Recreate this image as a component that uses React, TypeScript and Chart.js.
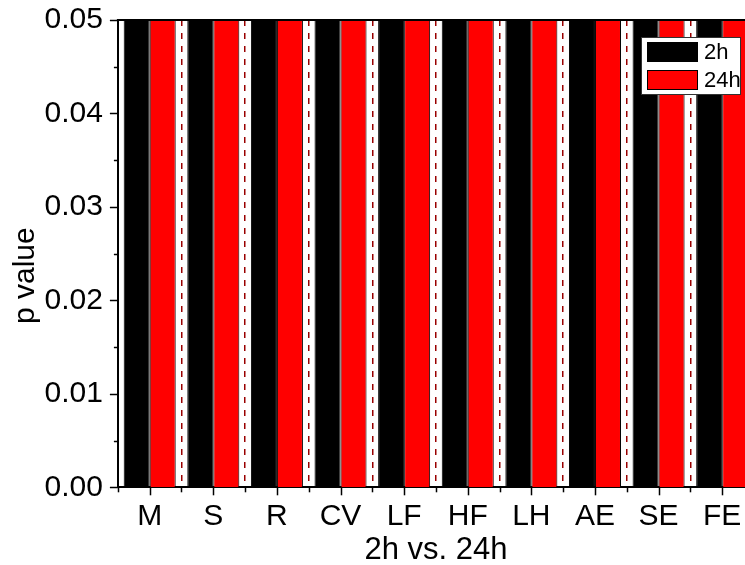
import React, { useEffect, useRef } from 'react';
import { Chart, registerables } from 'chart.js';

Chart.register(...registerables);

const categories = ['M', 'S', 'R', 'CV', 'LF', 'HF', 'LH', 'AE', 'SE', 'FE'];
const values2h = [0.05, 0.05, 0.05, 0.05, 0.05, 0.05, 0.05, 0.05, 0.05, 0.05];
const values24h = [0.05, 0.05, 0.05, 0.05, 0.05, 0.05, 0.05, 0.05, 0.05, 0.05];
const yTicks = [0, 0.01, 0.02, 0.03, 0.04, 0.05];
const seriesLabels = ['2h', '24h'];
const seriesColors = ['#000000', '#ff0000'];
const xTitle = '2h vs. 24h';
const yTitle = 'p value';

const FONT = 'Arial, "Liberation Sans", sans-serif';

const decorPlugin = {
  id: 'decor',
  afterDraw(chart: any) {
    const { ctx, chartArea } = chart;
    const xs = chart.scales.x;
    const ys = chart.scales.y;
    const line = (x1: number, y1: number, x2: number, y2: number) => {
      ctx.beginPath();
      ctx.moveTo(x1, y1);
      ctx.lineTo(x2, y2);
      ctx.stroke();
    };
    ctx.save();
    ctx.strokeStyle = '#000';
    ctx.lineWidth = 2;
    // top frame line
    line(chartArea.left - 1, chartArea.top, chartArea.right + 1, chartArea.top);
    ctx.lineWidth = 1.5;
    // x ticks
    categories.forEach((_, i) => {
      const px = Math.round(xs.getPixelForValue(i)) + 0.5;
      line(px, chartArea.bottom, px, chartArea.bottom + 8);
    });
    for (let i = 0; i <= categories.length; i++) {
      const px = Math.round(xs.getPixelForValue(i - 0.5)) + 0.5;
      line(px, chartArea.bottom, px, chartArea.bottom + 5);
    }
    // y ticks
    yTicks.forEach((v) => {
      const py = Math.round(ys.getPixelForValue(v)) + 0.5;
      line(chartArea.left - 8, py, chartArea.left, py);
    });
    for (let k = 0; k < yTicks.length - 1; k++) {
      const py = Math.round(ys.getPixelForValue((yTicks[k] + yTicks[k + 1]) / 2)) + 0.5;
      line(chartArea.left - 4, py, chartArea.left, py);
    }
    // y title
    ctx.save();
    ctx.translate(chartArea.left - 84, (chartArea.top + chartArea.bottom) / 2 + 22);
    ctx.rotate(-Math.PI / 2);
    ctx.fillStyle = '#000';
    ctx.font = `30px ${FONT}`;
    ctx.textAlign = 'center';
    ctx.textBaseline = 'alphabetic';
    ctx.fillText(yTitle, 0, 0);
    ctx.restore();
    // legend
    const x0 = chartArea.right - 113;
    const y0 = chartArea.top + 17;
    ctx.fillStyle = '#fff';
    ctx.fillRect(x0, y0, 99, 57);
    ctx.strokeStyle = '#333';
    ctx.lineWidth = 1;
    ctx.strokeRect(x0 + 0.5, y0 + 0.5, 99, 57);
    ctx.font = `22px ${FONT}`;
    ctx.textBaseline = 'middle';
    ctx.textAlign = 'left';
    chart.data.datasets.forEach((ds: any, i: number) => {
      const sy = y0 + 5 + i * 28;
      ctx.fillStyle = ds.backgroundColor;
      ctx.fillRect(x0 + 6, sy, 51, 20);
      ctx.strokeStyle = '#000';
      ctx.strokeRect(x0 + 6.5, sy + 0.5, 50, 19);
      ctx.fillStyle = '#000';
      ctx.fillText(ds.label, x0 + 63, sy + 11);
    });
    ctx.restore();
  },
};

export default function App() {
  const ref = useRef<HTMLCanvasElement>(null);
  useEffect(() => {
    if (!ref.current) return;
    const chart = new Chart(ref.current, {
      type: 'bar',
      data: {
        labels: categories,
        datasets: [values2h, values24h].map((d, i) => ({
          label: seriesLabels[i],
          data: d,
          backgroundColor: seriesColors[i],
          borderColor: '#000',
          borderWidth: 1,
          categoryPercentage: 0.818,
          barPercentage: 1,
        })),
      },
      options: {
        responsive: false,
        animation: false,
        devicePixelRatio: 1,
        layout: { padding: { left: 29.5, right: 6, top: 0, bottom: -4 } },
        plugins: {
          legend: { display: false },
          tooltip: { enabled: false },
        },
        scales: {
          x: {
            type: 'category',
            offset: true,
            grid: {
              display: true,
              offset: true,
              drawTicks: false,
              color: (c: any) => (c.index === 0 ? 'rgba(0,0,0,0)' : '#990000'),
              lineWidth: 1.5,
            },
            border: { display: true, color: '#000', width: 2, dash: [6, 7] },
            ticks: {
              autoSkip: false,
              maxRotation: 0,
              minRotation: 0,
              padding: 11.5,
              color: '#000',
              font: { family: FONT, size: 30 },
            },
            title: {
              display: true,
              text: xTitle,
              color: '#000',
              font: { family: FONT, size: 31 },
              padding: { top: -14.5, bottom: 0 },
            },
          },
          y: {
            min: 0,
            max: 0.05,
            grid: { display: false, drawTicks: false },
            border: { display: true, color: '#000', width: 2 },
            ticks: {
              stepSize: 0.01,
              padding: 15,
              color: '#000',
              font: { family: FONT, size: 30 },
              callback: (v: any) => Number(v).toFixed(2),
            },
          },
        },
      },
      plugins: [decorPlugin],
    });
    return () => chart.destroy();
  }, []);
  return (
    <div style={{ position: 'absolute', left: 0, top: 0, width: 745, height: 565, overflow: 'hidden', background: '#fff' }}>
      <canvas
        ref={ref}
        width={760}
        height={578}
        style={{ display: 'block', position: 'absolute', left: 0, top: -13 }}
      />
    </div>
  );
}
